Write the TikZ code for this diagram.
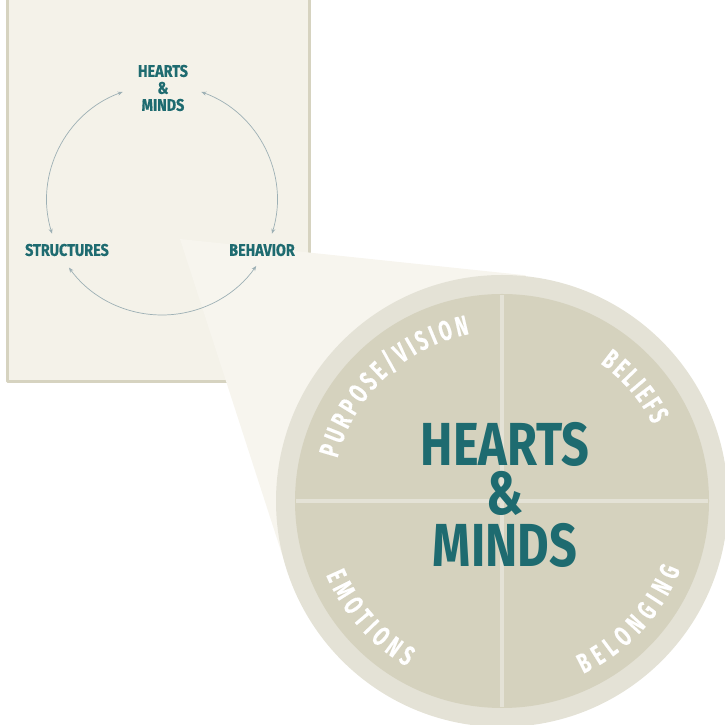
\documentclass[tikz,border=0pt]{standalone}
\usepackage{fontspec}
\usetikzlibrary{arrows.meta,decorations.text}
\newfontfamily\dinfont[FakeStretch=0.8]{Fira Sans}
\newfontfamily\dinsmall[FakeStretch=0.85,FakeBold=0.6]{Fira Sans}
\newfontfamily\dinnarrow[FakeStretch=0.66,FakeBold=0.2]{Fira Sans}
\definecolor{hmteal}{HTML}{1E6B70}
\definecolor{arrowgray}{HTML}{9DB0B5}
\definecolor{framefill}{HTML}{F4F2E9}
\definecolor{frameline}{HTML}{D6D3C0}
\definecolor{beamfill}{HTML}{F7F5EE}
\definecolor{ringfill}{HTML}{E4E2D6}
\definecolor{diskfill}{HTML}{D5D2BE}
\tikzset{
  smalllabel/.style={text=hmteal, inner sep=0pt, font=\dinsmall\bfseries\fontsize{17}{17}\selectfont},
  biglabel/.style={text=hmteal, inner sep=0pt, font=\dinfont\bfseries\fontsize{61}{61}\selectfont},
  cyclearrow/.style={draw=arrowgray, line width=0.7bp, {Stealth[length=5bp,width=4bp]}-{Stealth[length=5bp,width=4bp]}},
  divider/.style={draw=ringfill, line width=4bp, line cap=butt},
  arctext/.style={decorate, decoration={text along path, text align=fit to path, text color=white,
      text={|\dinnarrow\bfseries\fontsize{28}{28}\selectfont|#1}}}
}
\begin{document}
\begin{tikzpicture}[x=1bp, y=1bp, line cap=round, line join=round]
\useasboundingbox (0,0) rectangle (725,725);
\clip (0,0) rectangle (725,725);
% frame with the small cycle
\draw[line width=3bp, draw=frameline, fill=framefill] (7.5,343) rectangle (309.5,740);
% spotlight beam
\coordinate (apex) at (180,486);
\coordinate (c) at (502,224);
\coordinate (t1) at (525.6,449.7);
\coordinate (t2) at (287,155.4);
\fill[beamfill] (apex) -- (t1) -- (c) -- (t2) -- cycle;
% small cycle
\def\r{115}
\coordinate (o) at (162,525);
\foreach \n/\a in {hl/110,sl/197,sr/216,br/325,bl/-17,hr/70}
  \coordinate (\n) at ([shift={(\a:\r)}]o);
\draw[cyclearrow] (hl) arc[start angle=110, end angle=197, radius=\r];
\draw[cyclearrow] (sr) arc[start angle=216, end angle=325, radius=\r];
\draw[cyclearrow] (bl) arc[start angle=-17, end angle=70, radius=\r];
\node[smalllabel] (hm1) at (163,654) {HEARTS};
\node[smalllabel] (hm2) at (163,637) {\&};
\node[smalllabel] (hm3) at (163,620) {MINDS};
\node[smalllabel] (struct) at (67,475) {STRUCTURES};
\node[smalllabel] (behav) at (262,475) {BEHAVIOR};
% big circle
\fill[ringfill] (c) circle (226);
\fill[diskfill] (c) circle (207);
\coordinate (n) at ([yshift=207]c);
\coordinate (s) at ([yshift=-207]c);
\coordinate (w) at ([xshift=-207]c);
\coordinate (e) at ([xshift=207]c);
\draw[divider] (n) -- (s);
\draw[divider] (w) -- (e);
\path[arctext={PURPOSE/VISION}] ([shift={(165.5:170)}]c) arc[start angle=165.5, end angle=101, radius=170];
\path[arctext={BELIEFS}] ([shift={(54.5:169)}]c) arc[start angle=54.5, end angle=26.8, radius=169];
\path[arctext={EMOTIONS}] ([shift={(202.8:191)}]c) arc[start angle=202.8, end angle=240.1, radius=191];
\path[arctext={BELONGING}] ([shift={(295.2:191)}]c) arc[start angle=295.2, end angle=338.9, radius=191];
\node[biglabel] (hearts) at (505,281) {HEARTS};
\node[biglabel] (amp) at (505,232) {\&};
\node[biglabel] (minds) at (505,180) {MINDS};
\end{tikzpicture}
\end{document}
